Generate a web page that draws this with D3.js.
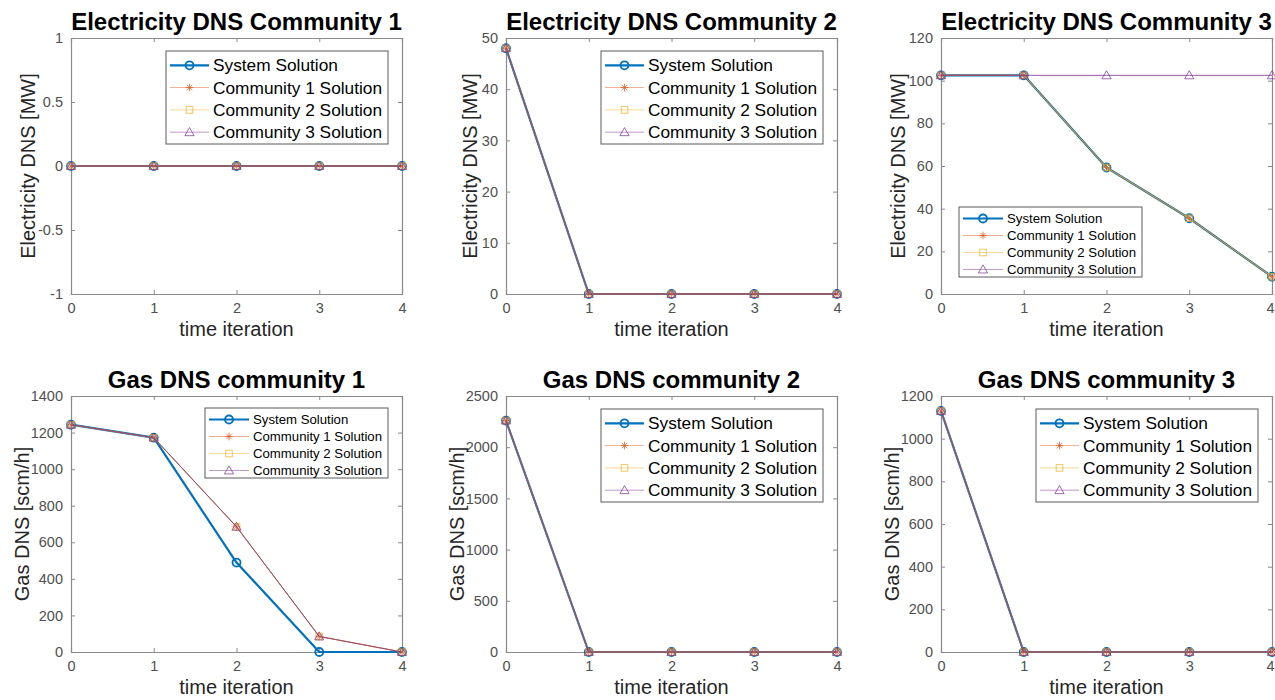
<!DOCTYPE html>
<html><head><meta charset="utf-8">
<script src="https://cdn.jsdelivr.net/npm/d3@7"></script>
<style>body{margin:0;background:#fff;} svg{display:block;font-family:"Liberation Sans",Arial,sans-serif;}</style>
</head><body><svg id="c" width="1275" height="700"></svg>
<script>
// ---------- data ----------
const iterations = [0, 1, 2, 3, 4];
const seriesNames = ["System Solution", "Community 1 Solution", "Community 2 Solution", "Community 3 Solution"];

const elec1System = [0, 0, 0, 0, 0];
const elec1Comm1  = [0, 0, 0, 0, 0];
const elec1Comm2  = [0, 0, 0, 0, 0];
const elec1Comm3  = [0, 0, 0, 0, 0];

const elec2System = [48, 0, 0, 0, 0];
const elec2Comm1  = [48, 0, 0, 0, 0];
const elec2Comm2  = [48, 0, 0, 0, 0];
const elec2Comm3  = [48, 0, 0, 0, 0];

const elec3System = [102.5, 102.5, 59.3, 35.5, 8.1];
const elec3Comm1  = [102.5, 102.5, 59.3, 35.5, 8.1];
const elec3Comm2  = [102.5, 102.5, 59.3, 35.5, 8.1];
const elec3Comm3  = [102.5, 102.5, 102.5, 102.5, 102.5];

const gas1System = [1243, 1172, 489, 0, 0];
const gas1Comm1  = [1243, 1172, 685, 85, 0];
const gas1Comm2  = [1243, 1172, 685, 85, 0];
const gas1Comm3  = [1243, 1172, 685, 85, 0];

const gas2System = [2260, 0, 0, 0, 0];
const gas2Comm1  = [2260, 0, 0, 0, 0];
const gas2Comm2  = [2260, 0, 0, 0, 0];
const gas2Comm3  = [2260, 0, 0, 0, 0];

const gas3System = [1130, 0, 0, 0, 0];
const gas3Comm1  = [1130, 0, 0, 0, 0];
const gas3Comm2  = [1130, 0, 0, 0, 0];
const gas3Comm3  = [1130, 0, 0, 0, 0];

const titles = ["Electricity DNS Community 1", "Electricity DNS Community 2", "Electricity DNS Community 3",
                "Gas DNS community 1", "Gas DNS community 2", "Gas DNS community 3"];
const yLabels = ["Electricity DNS [MW]", "Electricity DNS [MW]", "Electricity DNS [MW]",
                 "Gas DNS [scm/h]", "Gas DNS [scm/h]", "Gas DNS [scm/h]"];
const yTicks = [
  [-1, -0.5, 0, 0.5, 1],
  [0, 10, 20, 30, 40, 50],
  [0, 20, 40, 60, 80, 100, 120],
  [0, 200, 400, 600, 800, 1000, 1200, 1400],
  [0, 500, 1000, 1500, 2000, 2500],
  [0, 200, 400, 600, 800, 1000, 1200]
];
const xLabel = "time iteration";

// ---------- layout / style ----------
const colors = ["#0072BD", "#D95319", "#EDB120", "#7E2F8E"];
const markers = ["circle", "asterisk", "square", "triangle"];
const colX = [71, 506, 941], rowY = [38, 396];
const PW = 331, PH = 256;
const ylabOff = [43, 36, 43, 49, 49, 49];

const bigLeg = {w: 222, h: 93, fs: 17.3, first: 14.3, step: 22.3, s0: 4, s1: 43, tx: 47};
const smallLeg = {w: 183, h: 70, fs: 13.2, first: 11.5, step: 17, s0: 4, s1: 44, tx: 48};
const legends = [
  Object.assign({x: 166, y: 51}, bigLeg),
  Object.assign({x: 601, y: 51}, bigLeg),
  Object.assign({x: 959, y: 207}, smallLeg),
  Object.assign({x: 205, y: 408}, smallLeg),
  Object.assign({x: 601, y: 409}, bigLeg),
  Object.assign({x: 1036, y: 409}, bigLeg)
];

const panelData = [
  [elec1System, elec1Comm1, elec1Comm2, elec1Comm3],
  [elec2System, elec2Comm1, elec2Comm2, elec2Comm3],
  [elec3System, elec3Comm1, elec3Comm2, elec3Comm3],
  [gas1System, gas1Comm1, gas1Comm2, gas1Comm3],
  [gas2System, gas2Comm1, gas2Comm2, gas2Comm3],
  [gas3System, gas3Comm1, gas3Comm2, gas3Comm3]
];

const svg = d3.select("#c");

function drawMarker(g, type, x, y, color, sys) {
  const op = sys ? 1 : 0.8;
  if (type === "circle") {
    g.append("circle").attr("cx", x).attr("cy", y).attr("r", 4)
      .attr("fill", "none").attr("stroke", color).attr("stroke-width", 1.8);
  } else if (type === "square") {
    g.append("rect").attr("x", x - 3.3).attr("y", y - 3.3).attr("width", 6.6).attr("height", 6.6)
      .attr("fill", "none").attr("stroke", color).attr("stroke-width", 0.9).attr("opacity", op);
  } else if (type === "triangle") {
    const r = 4.6;
    g.append("path").attr("d", `M${x},${y - r}L${x + r},${y + r * 0.75}L${x - r},${y + r * 0.75}Z`)
      .attr("fill", "none").attr("stroke", color).attr("stroke-width", 0.9).attr("opacity", op);
  } else if (type === "asterisk") {
    const r = 3.8, d = r * 0.707;
    g.append("path").attr("d", `M${x - r},${y}H${x + r}M${x},${y - r}V${y + r}M${x - d},${y - d}L${x + d},${y + d}M${x - d},${y + d}L${x + d},${y - d}`)
      .attr("fill", "none").attr("stroke", color).attr("stroke-width", 0.9).attr("opacity", op);
  }
}

panelData.forEach((series, p) => {
  const ox = colX[p % 3], oy = rowY[Math.floor(p / 3)];
  const ticks = yTicks[p];
  const x = d3.scaleLinear().domain([iterations[0], iterations[iterations.length - 1]]).range([ox, ox + PW]);
  const y = d3.scaleLinear().domain([ticks[0], ticks[ticks.length - 1]]).range([oy + PH, oy]);
  const g = svg.append("g");

  g.append("rect").attr("x", ox).attr("y", oy).attr("width", PW).attr("height", PH).attr("fill", "#fff");

  const axCol = "#8a8a8a";
  const xb = g.append("g").attr("transform", `translate(0,${oy + PH})`)
    .call(d3.axisBottom(x).tickValues(iterations).tickSize(-4).tickPadding(9).tickFormat(d3.format("d")));
  const xt = g.append("g").attr("transform", `translate(0,${oy})`)
    .call(d3.axisTop(x).tickValues(iterations).tickSize(-4).tickFormat(""));
  const yl = g.append("g").attr("transform", `translate(${ox},0)`)
    .call(d3.axisLeft(y).tickValues(ticks).tickSize(-4).tickPadding(8).tickFormat(d => String(d)));
  const yr = g.append("g").attr("transform", `translate(${ox + PW},0)`)
    .call(d3.axisRight(y).tickValues(ticks).tickSize(-4).tickFormat(""));
  [xb, xt, yl, yr].forEach(a => {
    a.select(".domain").attr("stroke", axCol).attr("stroke-width", 1.2);
    a.selectAll(".tick line").attr("stroke", axCol).attr("stroke-width", 1);
    a.selectAll(".tick text").attr("fill", "#505050").style("font-size", "14.5px")
      .style("font-family", "'Liberation Sans',Arial,sans-serif");
  });
  xb.selectAll(".tick text").attr("dy", "0.71em");
  xb.selectAll(".tick text").filter(d => x(d) + 5 > 1275).attr("text-anchor", "end").attr("x", 1274 - x(4));

  series.forEach((vals, s) => {
    const pts = iterations.map((it, i) => [x(it), y(vals[i])]);
    const sys = s === 0;
    g.append("path").attr("d", d3.line()(pts)).attr("fill", "none")
      .attr("stroke", colors[s]).attr("stroke-width", sys ? 2.2 : 0.8)
      .attr("stroke-linejoin", "round");
    pts.forEach(pt => drawMarker(g, markers[s], pt[0], pt[1], colors[s], sys));
  });

  g.append("text").attr("x", ox + PW / 2).attr("y", oy - 8).attr("text-anchor", "middle")
    .style("font-size", "24px").style("font-weight", "bold").attr("fill", "#000").text(titles[p]);
  g.append("text").attr("x", ox + PW / 2).attr("y", oy + PH + 42).attr("text-anchor", "middle")
    .style("font-size", "20px").attr("fill", "#262626").text(xLabel);
  const yc = oy + PH / 2, xc = ox - ylabOff[p];
  g.append("text").attr("transform", `translate(${xc},${yc}) rotate(-90)`).attr("text-anchor", "middle")
    .attr("dominant-baseline", "central").style("font-size", "20px").attr("fill", "#262626").text(yLabels[p]);

  const L = legends[p];
  const lg = g.append("g");
  lg.append("rect").attr("x", L.x).attr("y", L.y).attr("width", L.w).attr("height", L.h)
    .attr("fill", "#fff").attr("stroke", "#5a5a5a").attr("stroke-width", 1);
  seriesNames.forEach((name, s) => {
    const cy = L.y + L.first + s * L.step;
    const sys = s === 0;
    lg.append("line").attr("x1", L.x + L.s0).attr("x2", L.x + L.s1).attr("y1", cy).attr("y2", cy)
      .attr("stroke", colors[s]).attr("stroke-width", sys ? 2.2 : 0.8).attr("opacity", sys ? 1 : 0.6);
    drawMarker(lg, markers[s], L.x + (L.s0 + L.s1) / 2, cy, colors[s], sys);
    lg.append("text").attr("x", L.x + L.tx).attr("y", cy).attr("dominant-baseline", "central")
      .style("font-size", L.fs + "px").attr("fill", "#000").text(name);
  });
});
</script></body></html>
